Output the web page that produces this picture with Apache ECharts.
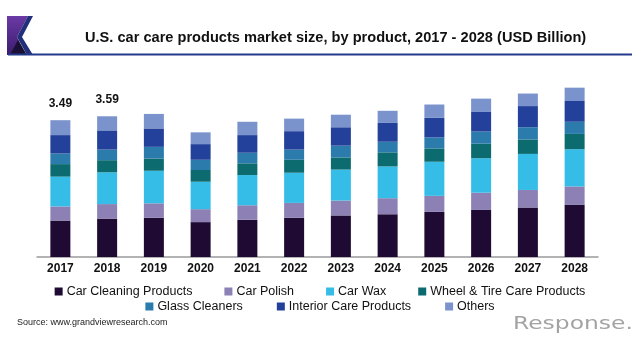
<!DOCTYPE html>
<html>
<head>
<meta charset="utf-8">
<script src="https://cdn.jsdelivr.net/npm/echarts@6/dist/echarts.min.js"></script>
<style>html,body{margin:0;padding:0;background:#fff}#chart{width:640px;height:346px}</style>
</head>
<body>
<div id="chart"></div>
<script>
var years = ['2017','2018','2019','2020','2021','2022','2023','2024','2025','2026','2027','2028'];
var carCleaning = [0.93,0.98,1.00,0.89,0.95,1.00,1.06,1.09,1.15,1.20,1.26,1.33];
var carPolish   = [0.36,0.37,0.37,0.33,0.37,0.38,0.38,0.41,0.41,0.44,0.45,0.47];
var carWax      = [0.76,0.81,0.83,0.70,0.77,0.77,0.79,0.81,0.87,0.88,0.92,0.95];
var wheelTire   = [0.32,0.31,0.31,0.30,0.30,0.33,0.31,0.36,0.34,0.37,0.37,0.39];
var glass       = [0.27,0.27,0.30,0.26,0.27,0.26,0.30,0.27,0.28,0.31,0.31,0.31];
var interior    = [0.47,0.49,0.47,0.40,0.45,0.47,0.47,0.48,0.50,0.50,0.54,0.53];
var others      = [0.38,0.36,0.37,0.30,0.34,0.32,0.32,0.31,0.34,0.34,0.32,0.34];
var totalLabels = ['3.49','3.59','','','','','','','','','',''];
var seriesNames = ['Car Cleaning Products','Car Polish','Car Wax','Wheel & Tire Care Products','Glass Cleaners','Interior Care Products','Others'];
var colors = ['#1e0a33','#8c80b4','#35bde8','#0c6b6e','#2b7cac','#23409a','#7b93cc'];
var seriesData = [carCleaning, carPolish, carWax, wheelTire, glass, interior, others];

var chart = echarts.init(document.getElementById('chart'), null, {renderer:'canvas'});
var font = 'Liberation Sans, Arial, sans-serif';
var series = seriesNames.map(function(n,i){
  var s = {name:n, type:'bar', stack:'total', barWidth:20, data:seriesData[i],
    itemStyle:{color:colors[i]}, emphasis:{disabled:true}};
  if (i === seriesNames.length-1) {
    s.label = {show:true, position:'top', distance:11, fontFamily:font, fontWeight:'bold', fontSize:12, color:'#111',
      formatter:function(p){return totalLabels[p.dataIndex];}};
  }
  return s;
});
chart.setOption({
  animation:false,
  color:colors,
  title:{text:'U.S. car care products market size, by product, 2017 - 2028 (USD Billion)', left:80, top:25,
    textStyle:{fontFamily:font, fontWeight:'bold', fontSize:14.6, color:'#111'}},
  grid:{left:37, right:42, top:61, bottom:89},
  xAxis:{type:'category', data:years, axisTick:{show:false},
    axisLine:{lineStyle:{color:'#9a9a9a', width:1.5}},
    axisLabel:{fontFamily:font, fontWeight:'bold', fontSize:12, color:'#111', margin:6}},
  yAxis:{type:'value', min:0, max:5, show:false, splitLine:{show:false}},
  legend:[
    {data:seriesNames.slice(0,4), left:'center', top:280, itemWidth:8, itemHeight:8, icon:'rect', itemGap:32,
      textStyle:{fontFamily:font, fontSize:12.5, color:'#111', padding:[0,0,0,-1]}},
    {data:seriesNames.slice(4), left:'center', top:295, itemWidth:8, itemHeight:8, icon:'rect', itemGap:34,
      textStyle:{fontFamily:font, fontSize:12.5, color:'#111', padding:[0,0,0,-1]}}
  ],
  graphic:[
    {type:'polygon', shape:{points:[[7,16],[28,16],[17,37],[26,55],[7,55]]},
      style:{fill:new echarts.graphic.LinearGradient(0,0,0,1,[{offset:0,color:'#6b3aa6'},{offset:1,color:'#3b1c6e'}])}},
    {type:'polygon', shape:{points:[[28,16],[33,16],[22,37],[33,55],[27,55],[17,37]]}, style:{fill:'#22307a'}},
    {type:'polygon', shape:{points:[[10,55],[18,40],[27,55]]}, style:{fill:'#1a0f35'}},
    {type:'line', shape:{x1:8,y1:54.5,x2:632,y2:54.5}, style:{stroke:'#233a8a', lineWidth:2}},
    {type:'text', left:17, top:318, style:{text:'Source: www.grandviewresearch.com', fontFamily:font, fontSize:9, fill:'#222'}},
    {type:'text', x:513, y:315, scaleX:1.3, style:{text:'Response.', fontFamily:'DejaVu Sans, sans-serif', fontSize:18, fill:'#a3a3a3'}}
  ],
  series:series
});
</script>
</body>
</html>
